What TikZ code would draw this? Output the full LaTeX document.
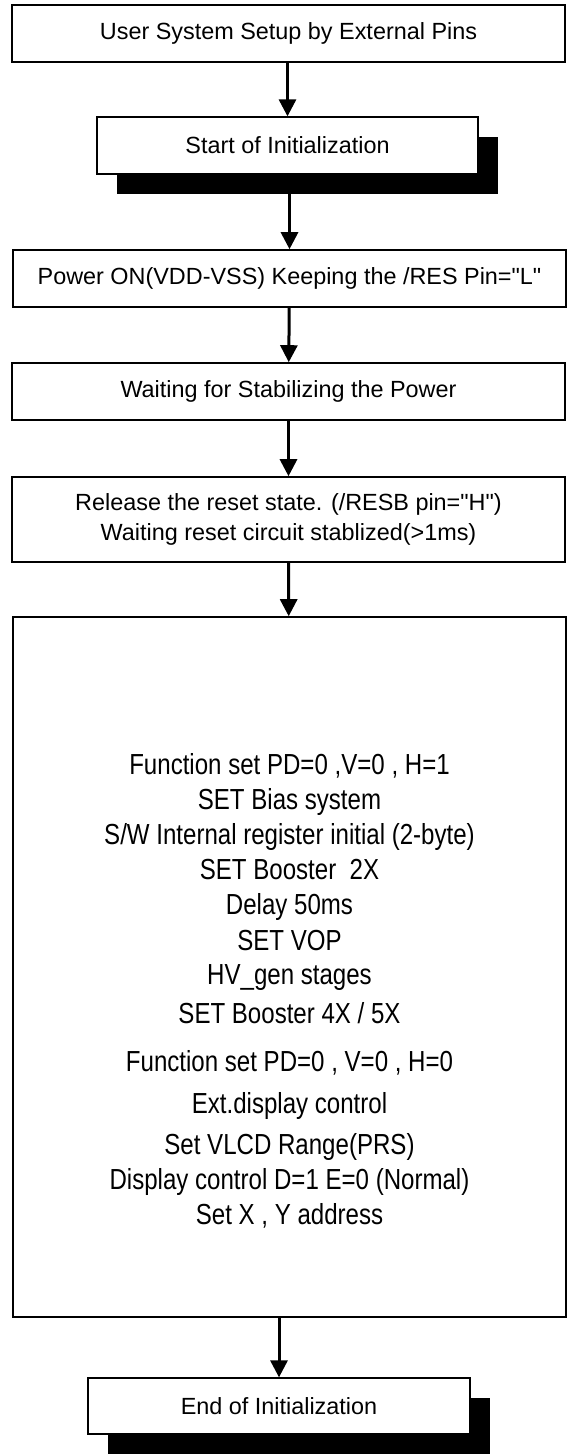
\documentclass[tikz,border=0pt]{standalone}
\usepackage{fontspec}
\setmainfont{Liberation Sans}
\newfontfamily\tallfont[FakeStretch=0.83]{Liberation Sans}
\usetikzlibrary{arrows.meta,shadows}

\begin{document}
\begin{tikzpicture}[x=1pt,y=-1pt,
  box/.style={draw,line width=1.6pt,fill=white,inner sep=0pt,align=center,
    font=\fontsize{23.4}{30}\selectfont},
  wide/.style={box,minimum width=553pt,minimum height=57pt},
  shadowed/.style={box,line width=1.3pt,minimum width=381pt,minimum height=57pt,
    drop shadow={shadow xshift=20pt,shadow yshift=-20pt,fill=black,opacity=1}},
  flow/.style={line width=3pt,-{Triangle[length=17pt,width=17pt]}},
  item/.style={anchor=base,inner sep=0pt,font=\tallfont\fontsize{29}{30}\selectfont}]
\useasboundingbox (0,0) rectangle (567,1455);

\node[wide] (setup) at (288.5,33.5) {User System Setup by External Pins};
\node[shadowed] (start) at (287.5,145.5) {Start of Initialization};
\node[wide] (power) at (289.5,278.5) {Power ON(VDD-VSS) Keeping the /RES Pin=\textquotedbl L\textquotedbl};
\node[wide] (wait) at (288.5,391.5) {Waiting for Stabilizing the Power};
\node[wide,minimum height=85pt] (reset) at (288.5,519.5)
  {Release the reset state. (/RESB pin=\textquotedbl H\textquotedbl)\\Waiting reset circuit stablized(>1ms)};
\node[wide,minimum height=700pt] (init) at (289.5,967) {};
\foreach \y/\txt [count=\i] in {774/{Function set PD=0 ,V=0 , H=1},
    809/{SET Bias system},
    844/{S/W Internal register initial (2-byte)},
    879/{SET Booster~ 2X},
    914/{Delay 50ms},
    950/{SET VOP},
    984/{HV\_gen stages},
    1023/{SET Booster 4X / 5X},
    1071/{Function set PD=0 , V=0 , H=0},
    1113/{Ext.display control},
    1154/{Set VLCD Range(PRS)},
    1189/{Display control D=1 E=0 (Normal)},
    1224/{Set X , Y address}}
  \node[item] (cmd\i) at (289.5,\y) {\txt};
\node[shadowed,minimum width=382pt,minimum height=56pt] (done) at (279,1406) {End of Initialization};

\draw[flow] (start.north |- setup.south) -- (start.north);
\draw[flow] (power.north |- start.south) -- (power.north);
\draw[flow] (power) -- (wait);
\draw[flow] (wait) -- (reset);
\draw[flow] (reset) -- (init);
\draw[flow] (done.north |- init.south) -- (done.north);
\end{tikzpicture}
\end{document}
